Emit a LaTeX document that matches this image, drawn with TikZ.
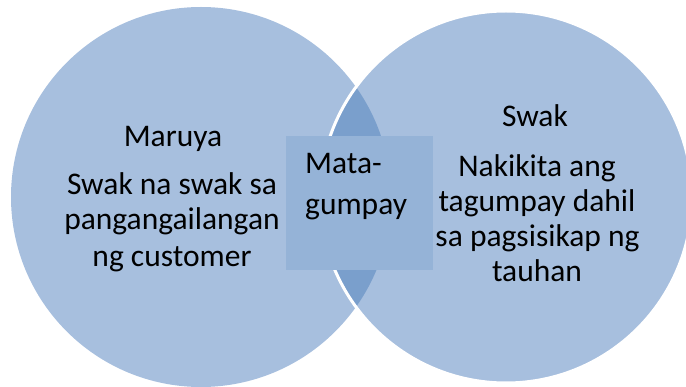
\documentclass[tikz,border=0pt]{standalone}
\usepackage{fontspec}
\setmainfont{Carlito}
\definecolor{circfill}{RGB}{167,191,222}
\definecolor{lensfill}{RGB}{122,159,204}
\definecolor{boxfill}{RGB}{149,179,215}
\begin{document}
\begin{tikzpicture}[x=1pt,y=-1pt,
  txt/.style={font=\fontsize{31.5}{38}\selectfont, inner sep=0pt, anchor=base, text=black},
  midbox/.style={fill=boxfill, draw=none, minimum width=147pt, minimum height=134pt, inner sep=0pt}]
\useasboundingbox (0,0) rectangle (686,387);
\fill[circfill] (201,197) circle[radius=190];
\fill[circfill] (506,197) circle[radius=186];
\begin{scope}
  \clip (201,197) circle[radius=190];
  \fill[lensfill] (506,197) circle[radius=186];
\end{scope}
\draw[white, line width=3pt] (506,197) circle[radius=186];
\node[midbox] (mid) at (359.5,203) {};
% left circle text
\node[txt] (l0) at (173,147) {Maruya};
\node[txt] (l1) at (172,195) {Swak na swak sa};
\node[txt] (l2) at (172,230) {pangangailangan};
\node[txt] (l3) at (172,267) {ng customer};
% right circle text
\node[txt] (r0) at (535,127) {Swak};
\node[txt] (r1) at (537,177) {Nakikita ang};
\node[txt] (r2) at (537,212) {tagumpay dahil};
\node[txt] (r3) at (537.5,247) {sa pagsisikap ng};
\node[txt] (r4) at (537,282) {tauhan};
% middle text
\node[txt, anchor=base west] (m0) at (305,174) {Mata-};
\node[txt, anchor=base west] (m1) at (305,215) {gumpay};
\end{tikzpicture}
\end{document}
